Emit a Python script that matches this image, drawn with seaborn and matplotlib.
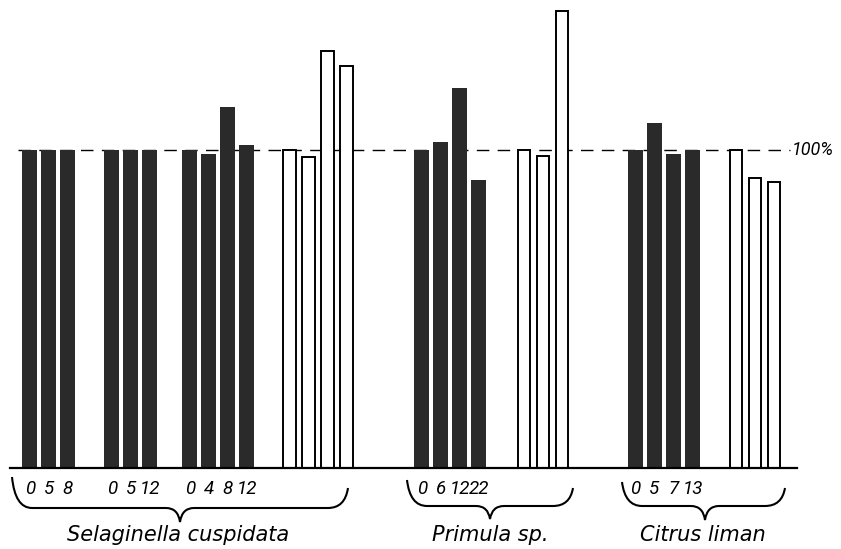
import numpy as np
import pandas as pd
import seaborn as sns
import matplotlib.pyplot as plt
from matplotlib.path import Path
from matplotlib.patches import PathPatch

sns.set_style('white')
plt.rcParams['font.family'] = ['DejaVu Sans']
plt.rcParams['text.color'] = 'black'
plt.rcParams['xtick.color'] = 'black'

# dark bars: time series per experiment, 100% = start value
dark_species = ['Selaginella cuspidata', 'Selaginella cuspidata', 'Selaginella cuspidata',
                'Primula sp.', 'Citrus liman']
dark_labels = [['0', '5', '8'], ['0', '5', '12'], ['0', '4', '8', '12'],
               ['0', '6', '12', '22'], ['0', '5', '7', '13']]
dark_values = [[100, 100, 100], [100, 100, 100], [100, 98.7, 113.5, 101.6],
               [100, 102.5, 119.5, 90.6], [100, 108.5, 98.7, 100]]

# white bars
white_species = ['Selaginella cuspidata', 'Primula sp.', 'Citrus liman']
white_values = [[100, 97.8, 131.1, 126.4], [100, 98.1, 143.7], [100, 91.2, 89.9]]

species_names = ['Selaginella cuspidata', 'Primula sp.', 'Citrus liman']

# layout (pixel units on an 841 px wide axis)
step = 19
dark_starts = [30, 112, 190, 422, 635.5]
white_starts = [289.5, 524, 736]
px_per_pct = 3.18
num_font = ['Roboto', 'DejaVu Sans']


def build(species, values, starts, labels=None):
    rows = []
    for g, (sp, vals, x0) in enumerate(zip(species, values, starts)):
        for i, v in enumerate(vals):
            rows.append({'species': sp, 'x': x0 + i * step, 'value': v,
                         'label': labels[g][i] if labels else ''})
    return pd.DataFrame(rows)


dark_df = build(dark_species, dark_values, dark_starts, dark_labels)
white_df = build(white_species, white_values, white_starts)

fig = plt.figure(figsize=(8.41, 5.49), dpi=100)
ax = fig.add_axes([0, 81 / 549, 1, 468 / 549])

ax.plot([18, 790], [100, 100], ls=(0, (9, 6)), color='black', lw=1, zorder=0)

sns.barplot(data=dark_df, x='x', y='value', native_scale=True, orient='x',
            width=15 / step, color='#2a2a2a', linewidth=0, errorbar=None, ax=ax)
sns.barplot(data=white_df, x='x', y='value', native_scale=True, orient='x',
            width=12.5 / step, color='white', edgecolor='black', linewidth=1.4,
            errorbar=None, ax=ax)

ax.set_xlim(0, 841)
ax.set_ylim(0, 468 / px_per_pct)
ax.set_xlabel('')
ax.set_ylabel('')
ax.set_yticks([])
ax.set_xticks(dark_df['x'], dark_df['label'])
ax.tick_params(axis='x', length=0, pad=9, labelsize=13.5, labelcolor='black')
for lbl in ax.get_xticklabels():
    lbl.set_style('italic')
    lbl.set_family(num_font)
sns.despine(ax=ax, left=True, top=True, right=True)
ax.spines['bottom'].set_bounds(10, 797)
ax.spines['bottom'].set_linewidth(1.6)
ax.spines['bottom'].set_color('black')

ax.text(792, 100, '100%', va='center', ha='left', fontsize=13, style='italic',
        family=num_font, color='black')

# braces and species names drawn in pixel coordinates
ov = fig.add_axes([0, 0, 1, 1])
ov.set_xlim(0, 841)
ov.set_ylim(549, 0)
ov.axis('off')


def brace(x0, x1, xt, yl, yr, ym, ytip):
    verts = [(x0, yl), (x0 + 3, ym), (x0 + 20, ym),
             (xt - 14, ym), (xt - 2, ym), (xt, ytip),
             (xt + 2, ym), (xt + 14, ym),
             (x1 - 20, ym), (x1 - 3, ym), (x1, yr)]
    codes = [Path.MOVETO, Path.CURVE3, Path.CURVE3,
             Path.LINETO, Path.CURVE3, Path.CURVE3,
             Path.CURVE3, Path.CURVE3,
             Path.LINETO, Path.CURVE3, Path.CURVE3]
    ov.add_patch(PathPatch(Path(verts, codes), fill=False, lw=1.5, color='black'))


braces = [(12, 348, 180, 477, 488, 508, 522),
          (407, 573, 490, 480, 488, 506, 519),
          (622, 785, 705, 482, 488, 506, 520)]
name_x = [178, 490, 703]
for b, name, nx in zip(braces, species_names, name_x):
    brace(*b)
    ov.text(nx, 535, name, ha='center', va='center', fontsize=15, style='italic',
            color='black')

fig.savefig('out.png', dpi=100)
